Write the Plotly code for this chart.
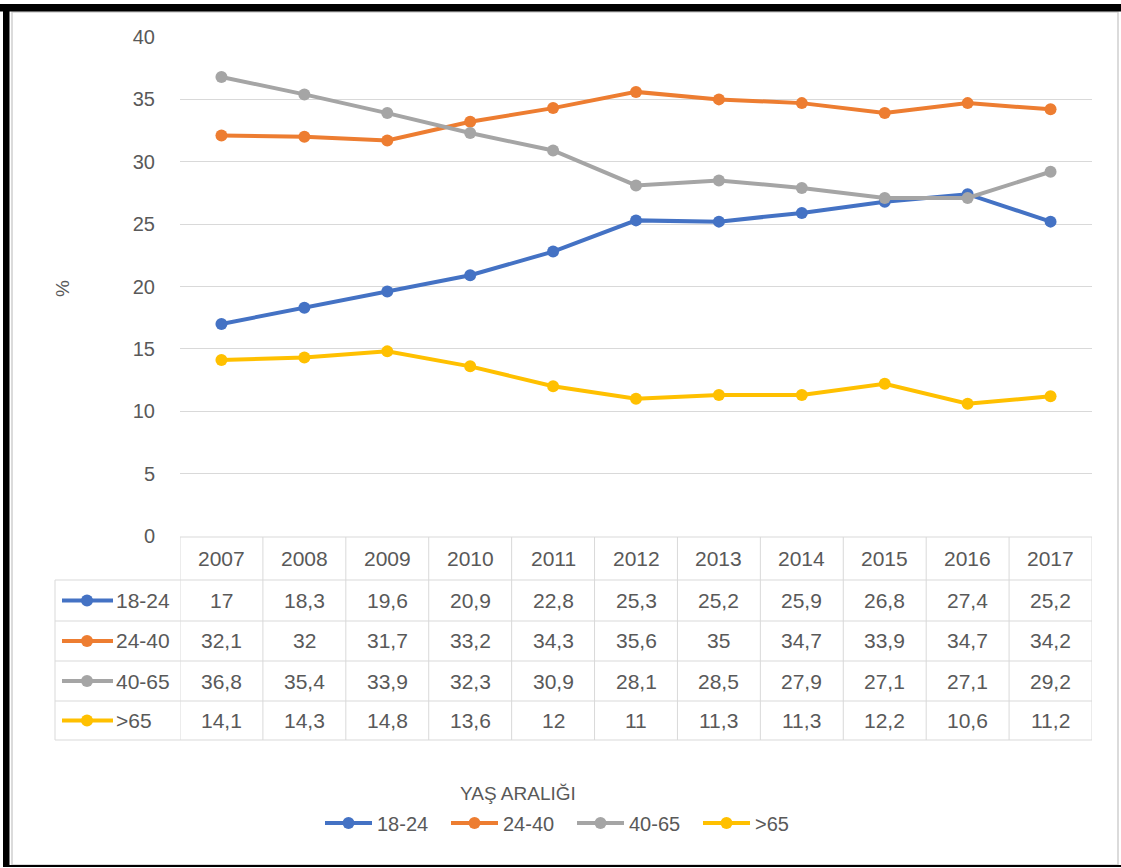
import plotly.graph_objects as go

# Survey data by age group, 2007-2017 (%)
years = [2007, 2008, 2009, 2010, 2011, 2012, 2013, 2014, 2015, 2016, 2017]
series_names = ["18-24", "24-40", "40-65", ">65"]
age_18_24 = [17, 18.3, 19.6, 20.9, 22.8, 25.3, 25.2, 25.9, 26.8, 27.4, 25.2]
age_24_40 = [32.1, 32, 31.7, 33.2, 34.3, 35.6, 35, 34.7, 33.9, 34.7, 34.2]
age_40_65 = [36.8, 35.4, 33.9, 32.3, 30.9, 28.1, 28.5, 27.9, 27.1, 27.1, 29.2]
age_over_65 = [14.1, 14.3, 14.8, 13.6, 12, 11, 11.3, 11.3, 12.2, 10.6, 11.2]
y_ticks = [0, 5, 10, 15, 20, 25, 30, 35, 40]
y_title = "%"
x_title = "YAŞ ARALIĞI"

series_values = [age_18_24, age_24_40, age_40_65, age_over_65]
colors = ["#4472C4", "#ED7D31", "#A5A5A5", "#FFC000"]

W, H = 1121, 868
PL, PR, PT, PB = 180, 1092, 37, 536  # plot area in pixels
FONT = "Liberation Sans, Arial, sans-serif"
TXT = "#595959"
GRID = "#D9D9D9"


def xp(px):
    return (px - PL) / (PR - PL)


def yp(py):
    return (PB - py) / (PB - PT)


def fmt(v):
    return f"{v:g}".replace(".", ",")


fig = go.Figure()
for name, vals, col in zip(series_names, series_values, colors):
    fig.add_trace(go.Scatter(
        x=years, y=vals, name=name, mode="lines+markers",
        line=dict(color=col, width=4),
        marker=dict(color=col, size=12),
    ))

shapes = []
annotations = []

# data table under the plot
row_edges = [537, 580, 621, 661, 701, 740]
row_centers = [(row_edges[i] + row_edges[i + 1]) / 2 for i in range(5)]
tab_left = 55
line_style = dict(color=GRID, width=1)
cell_font = dict(family=FONT, size=21, color=TXT)

for i, py in enumerate(row_edges):
    x0 = xp(PL) if i == 0 else xp(tab_left)
    shapes.append(dict(type="line", xref="paper", yref="paper",
                       x0=x0, x1=1, y0=yp(py), y1=yp(py), line=line_style))
shapes.append(dict(type="line", xref="paper", yref="paper",
                   x0=xp(tab_left), x1=xp(tab_left),
                   y0=yp(row_edges[1]), y1=yp(row_edges[-1]), line=line_style))
for k in range(len(years) + 1):
    xv = years[0] - 0.5 + k
    shapes.append(dict(type="line", xref="x", yref="paper",
                       x0=xv, x1=xv, y0=yp(row_edges[0]), y1=yp(row_edges[-1]),
                       line=line_style))

# header row: years
for yr in years:
    annotations.append(dict(x=yr, y=yp(row_centers[0]), xref="x", yref="paper",
                            text=str(yr), showarrow=False,
                            xanchor="center", yanchor="middle", font=cell_font))

# value rows with legend keys
for r, (name, vals, col) in enumerate(zip(series_names, series_values, colors)):
    cy = yp(row_centers[r + 1])
    shapes.append(dict(type="line", xref="paper", yref="paper",
                       x0=xp(62), x1=xp(113), y0=cy, y1=cy,
                       line=dict(color=col, width=4)))
    shapes.append(dict(type="circle", xref="paper", yref="paper",
                       xsizemode="pixel", ysizemode="pixel",
                       xanchor=xp(87), yanchor=cy,
                       x0=-6, x1=6, y0=-6, y1=6,
                       fillcolor=col, line=dict(color=col, width=0)))
    annotations.append(dict(x=xp(114), y=cy, xref="paper", yref="paper",
                            text=name, showarrow=False, xanchor="left",
                            yanchor="middle", font=cell_font))
    for yr, v in zip(years, vals):
        annotations.append(dict(x=yr, y=cy, xref="x", yref="paper",
                                text=fmt(v), showarrow=False,
                                xanchor="center", yanchor="middle",
                                font=cell_font))

# axis titles
annotations.append(dict(x=xp(62), y=yp(288), xref="paper", yref="paper",
                        text=y_title, textangle=-90, showarrow=False,
                        xanchor="center", yanchor="middle",
                        font=dict(family=FONT, size=19, color=TXT)))
annotations.append(dict(x=xp(518), y=yp(793), xref="paper", yref="paper",
                        text=x_title, showarrow=False,
                        xanchor="center", yanchor="middle",
                        font=dict(family=FONT, size=19, color=TXT)))

# chart area border and outer frame
shapes.append(dict(type="rect", xref="paper", yref="paper",
                   x0=xp(12), x1=xp(1118), y0=yp(12), y1=yp(865),
                   line=dict(color="#D0D0D0", width=1.5)))
shapes.append(dict(type="rect", xref="paper", yref="paper",
                   x0=xp(0), x1=xp(W), y0=yp(4), y1=yp(11.5),
                   fillcolor="black", line=dict(width=0)))
shapes.append(dict(type="rect", xref="paper", yref="paper",
                   x0=xp(3), x1=xp(9.5), y0=yp(4), y1=yp(866),
                   fillcolor="black", line=dict(width=0)))
shapes.append(dict(type="rect", xref="paper", yref="paper",
                   x0=xp(3), x1=xp(W), y0=yp(865), y1=yp(867),
                   fillcolor="black", line=dict(width=0)))

fig.update_layout(
    width=W, height=H,
    margin=dict(l=PL, r=W - PR, t=PT, b=H - PB),
    plot_bgcolor="white", paper_bgcolor="white",
    font=dict(family=FONT, color=TXT),
    xaxis=dict(range=[years[0] - 0.5, years[-1] + 0.5], showgrid=False,
               showticklabels=False, zeroline=False, showline=False,
               fixedrange=True),
    yaxis=dict(range=[0, 40], tickvals=y_ticks, showgrid=True, gridcolor=GRID,
               gridwidth=1, zeroline=False, showline=False, ticks="",
               ticklabelstandoff=24,
               tickfont=dict(family=FONT, size=20, color=TXT), fixedrange=True),
    showlegend=True,
    legend=dict(orientation="h", x=xp(572), y=yp(823), xanchor="center",
                yanchor="middle", font=dict(family=FONT, size=20, color=TXT),
                itemwidth=47, entrywidth=64, bgcolor="rgba(0,0,0,0)"),
    shapes=shapes,
    annotations=annotations,
)

fig.write_html("out.html")
